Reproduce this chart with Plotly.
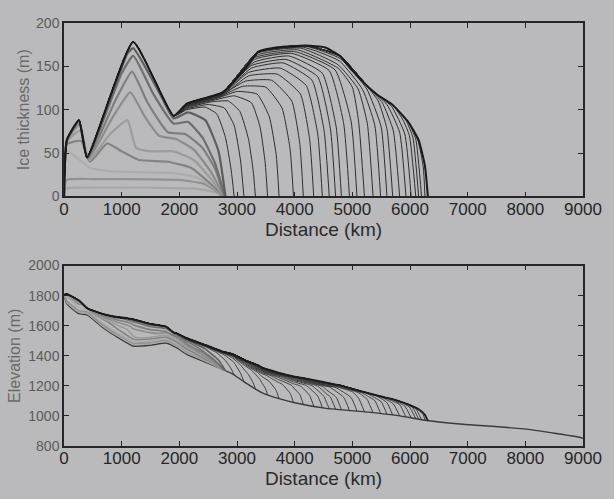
import numpy as np
import plotly.graph_objects as go

# ---------------------------------------------------------------
# Flow-line ice-sheet growth experiment: thickness and surface
# elevation profiles at successive time slices.
# ---------------------------------------------------------------

# Bedrock elevation along the flow line (km, m)
bed_x = [0, 50, 260, 400, 700, 900, 1200, 1490, 1770, 1950, 2130, 2470, 2920,
         3130, 3430, 3700, 4000, 4550, 5280, 5820, 6290, 6920, 8020, 8970, 9000]
bed_z = [1805, 1745, 1680, 1672, 1580, 1530, 1465, 1470, 1485, 1455, 1410, 1355, 1280,
         1225, 1155, 1118, 1088, 1050, 1025, 1000, 970, 945, 912, 855, 850]

# Build-up stage: thin, spreading ice confined to the first ~2800 km
early_profiles = [
    ([0, 30, 600, 1500, 2300, 2650, 2740],
     [0, 9, 10, 10, 9, 4, 0]),
    ([0, 40, 500, 1200, 2000, 2400, 2600, 2750],
     [0, 19, 20, 20, 19, 15, 8, 0]),
    ([0, 40, 450, 800, 1300, 1900, 2300, 2600, 2760],
     [0, 53, 33, 29, 28, 27, 22, 10, 0]),
    ([0, 50, 300, 450, 750, 1000, 1300, 1800, 2200, 2550, 2765],
     [0, 60, 64, 40, 61, 52, 42, 40, 33, 14, 0]),
    ([0, 50, 280, 430, 800, 1100, 1250, 1500, 1900, 2250, 2550, 2770],
     [0, 63, 76, 42, 72, 88, 56, 52, 52, 42, 20, 0]),
    ([0, 50, 270, 420, 850, 1150, 1400, 1650, 1950, 2250, 2550, 2775],
     [0, 64, 83, 43, 92, 120, 92, 70, 66, 54, 28, 0]),
    ([0, 50, 260, 410, 900, 1180, 1450, 1800, 2100, 2400, 2620, 2780],
     [0, 65, 86, 44, 112, 144, 108, 74, 72, 56, 32, 0]),
    ([0, 50, 260, 400, 1000, 1200, 1550, 1900, 2150, 2400, 2620, 2790],
     [0, 65, 87, 45, 142, 162, 118, 84, 86, 68, 38, 0]),
    ([0, 50, 260, 400, 1100, 1200, 1650, 1900, 2150, 2450, 2680, 2800],
     [0, 65, 88, 45, 165, 171, 120, 90, 97, 88, 52, 0]),
]
early_colors = ["#a6a6a6", "#929292", "#acacac", "#848484", "#9c9c9c",
                "#8c8c8c", "#7e7e7e", "#6e6e6e", "#5e5e5e"]

# Advance stage: interior part shared by every slice (0-1900 km)
core_x = [0, 50, 260, 400, 1200, 1900]
core_h = [0, 65, 88, 45, 178, 93]

# Advance stage: downstream part of each slice, ending at its terminus
advance_tails = [
    ([2130, 2450, 2650, 2800, 2900, 2950], [100, 103, 95, 68, 30, 0]),
    ([2130, 2500, 2780, 2950, 3060, 3120], [101, 106, 102, 82, 42, 0]),
    ([2130, 2550, 2850, 3050, 3200, 3280, 3320], [102, 109, 110, 98, 66, 30, 0]),
    ([2130, 2600, 2950, 3250, 3400, 3490, 3530], [103, 111, 116, 108, 80, 38, 0]),
    ([2130, 2650, 3000, 3350, 3560, 3680, 3730], [104, 113, 121, 118, 92, 48, 0]),
    ([2130, 2700, 3100, 3500, 3780, 3920, 3980], [104, 115, 127, 126, 102, 55, 0]),
    ([2130, 2700, 3150, 3600, 3950, 4090, 4150], [105, 116, 133, 134, 110, 60, 0]),
    ([2130, 2750, 3200, 3700, 4100, 4260, 4330], [105, 117, 139, 141, 118, 66, 0]),
    ([2130, 2750, 3200, 3750, 4200, 4400, 4480], [106, 118, 143, 148, 128, 72, 0]),
    ([2130, 2750, 3250, 3800, 4300, 4510, 4600], [106, 119, 148, 154, 134, 76, 0]),
    ([2130, 2750, 3250, 3850, 4400, 4620, 4710], [106, 119, 151, 158, 138, 78, 0]),
    ([2130, 2750, 3300, 3900, 4480, 4720, 4810], [107, 120, 155, 162, 142, 80, 0]),
    ([2130, 2750, 3300, 3950, 4600, 4850, 4950], [107, 120, 158, 165, 145, 84, 0]),
    ([2130, 2750, 3300, 4000, 4700, 4980, 5080], [107, 120, 160, 167, 146, 86, 0]),
    ([2130, 2750, 3350, 4050, 4750, 5000, 5110, 5210], [107, 120, 163, 169, 148, 126, 86, 0]),
    ([2130, 2750, 3350, 4100, 4750, 5100, 5260, 5360], [107, 120, 165, 171, 152, 124, 84, 0]),
    ([2130, 2750, 3370, 4150, 4780, 5180, 5390, 5490], [107, 120, 166, 172, 156, 123, 82, 0]),
    ([2130, 2750, 3370, 4200, 4790, 5250, 5500, 5600], [107, 120, 167, 173, 159, 124, 80, 0]),
    ([2130, 2750, 3370, 4200, 4790, 5280, 5450, 5600, 5700],
     [107, 120, 167, 174, 161, 125, 110, 78, 0]),
    ([2130, 2750, 3370, 4200, 4790, 5280, 5520, 5710, 5820],
     [107, 120, 167, 174, 162, 126, 108, 76, 0]),
    ([2130, 2750, 3370, 4200, 4790, 5280, 5600, 5820, 5930],
     [107, 120, 167, 174, 162, 126, 106, 74, 0]),
    ([2130, 2750, 3370, 4200, 4790, 5280, 5440, 5680, 5910, 6020],
     [107, 120, 167, 174, 162, 126, 117, 104, 72, 0]),
    ([2130, 2750, 3370, 4200, 4790, 5280, 5440, 5710, 5880, 5990, 6100],
     [107, 120, 167, 174, 162, 126, 117, 105, 88, 70, 0]),
    ([2130, 2750, 3370, 4200, 4790, 5280, 5440, 5710, 5930, 6050, 6150],
     [107, 120, 167, 174, 162, 126, 117, 105, 88, 68, 0]),
    ([2130, 2750, 3370, 4200, 4790, 5280, 5440, 5710, 5960, 6100, 6200],
     [107, 120, 167, 174, 162, 126, 117, 105, 87, 66, 0]),
    ([2130, 2750, 3370, 4200, 4790, 5280, 5440, 5710, 5980, 6140, 6230, 6260],
     [107, 120, 167, 174, 162, 126, 117, 105, 85, 64, 34, 0]),
    # final slice
    ([2130, 2750, 3200, 3370, 3700, 4200, 4520, 4790, 5000, 5280, 5440, 5710,
      5980, 6150, 6260, 6310],
     [107, 120, 152, 167, 172, 174, 172, 162, 145, 126, 117, 105,
      85, 65, 35, 0]),
]

x_ticks = [0, 1000, 2000, 3000, 4000, 5000, 6000, 7000, 8000, 9000]
thk_ticks = [0, 50, 100, 150, 200]
elev_ticks = [800, 1000, 1200, 1400, 1600, 1800, 2000]

PAPER = "#bababc"
AXIS = "#262626"
FONT = "Liberation Sans, Arial, Helvetica, sans-serif"
SMOOTH = 0.45


def surface(xs, hs):
    """Surface elevation of one slice: bed plus ice thickness, evaluated on
    the union of both polylines' vertices up to the terminus."""
    front = xs[-1]
    grid = sorted(set(xs) | {b for b in bed_x if b < front})
    grid = np.array(grid, dtype=float)
    return grid, np.interp(grid, bed_x, bed_z) + np.interp(grid, xs, hs)


fig = go.Figure()

# ---- top panel: ice thickness --------------------------------------------
for (xs, hs), col in zip(early_profiles, early_colors):
    fig.add_trace(go.Scatter(x=xs, y=hs, mode="lines", xaxis="x", yaxis="y",
                             line=dict(color=col, width=2.2, shape="spline",
                                       smoothing=SMOOTH),
                             hoverinfo="skip"))

n_adv = len(advance_tails)
for i, (tx, th) in enumerate(advance_tails):
    xs = core_x + tx
    hs = core_h + th
    last = i == n_adv - 1
    fig.add_trace(go.Scatter(x=xs, y=hs, mode="lines", xaxis="x", yaxis="y",
                             line=dict(color="#1a1a1a" if last else "#2e2e2e",
                                       width=2.0 if last else 1.0,
                                       shape="spline", smoothing=SMOOTH),
                             hoverinfo="skip"))

# ---- bottom panel: surface elevation -------------------------------------
fig.add_trace(go.Scatter(x=bed_x, y=bed_z, mode="lines", xaxis="x2", yaxis="y2",
                         line=dict(color="#3a3a3a", width=1.4, shape="spline",
                                   smoothing=SMOOTH),
                         hoverinfo="skip"))
for (xs, hs), col in zip(early_profiles, early_colors):
    gx, gz = surface(xs, hs)
    fig.add_trace(go.Scatter(x=gx, y=gz, mode="lines", xaxis="x2", yaxis="y2",
                             line=dict(color=col, width=1.6, shape="spline",
                                       smoothing=SMOOTH),
                             hoverinfo="skip"))
for i, (tx, th) in enumerate(advance_tails):
    gx, gz = surface(core_x + tx, core_h + th)
    last = i == n_adv - 1
    fig.add_trace(go.Scatter(x=gx, y=gz, mode="lines", xaxis="x2", yaxis="y2",
                             line=dict(color="#1a1a1a" if last else "#333333",
                                       width=1.8 if last else 0.9,
                                       shape="spline", smoothing=SMOOTH),
                             hoverinfo="skip"))

axis_common = dict(showline=True, linecolor=AXIS, linewidth=1.5, mirror="ticks",
                   ticks="inside", ticklen=5, tickwidth=1.2, tickcolor=AXIS,
                   showgrid=False, zeroline=False)

fig.update_layout(
    width=614, height=499,
    margin=dict(l=64, r=22, t=23, b=53),
    paper_bgcolor=PAPER, plot_bgcolor=PAPER,
    showlegend=False,
    font=dict(family=FONT, color="#2a2a2a"),
    xaxis=dict(domain=[0, 1], anchor="y", range=[0, 9000], tickvals=x_ticks,
               tickfont=dict(size=17, color="#262626"), ticklabelstandoff=-4,
               title=dict(text="Distance (km)", font=dict(size=19, color="#2a2a2a"),
                          standoff=2),
               **axis_common),
    yaxis=dict(domain=[0.590, 1.0], anchor="x", range=[0, 200], tickvals=thk_ticks,
               tickfont=dict(size=14, color="#5a5a5a"),
               title=dict(text="Ice thickness (m)", font=dict(size=16, color="#6a6a6a"),
                          standoff=2),
               **axis_common),
    xaxis2=dict(domain=[0, 1], anchor="y2", range=[0, 9000], tickvals=x_ticks,
                tickfont=dict(size=17, color="#262626"), ticklabelstandoff=-4,
                title=dict(text="Distance (km)", font=dict(size=19, color="#2a2a2a"),
                           standoff=2),
                **axis_common),
    yaxis2=dict(domain=[0, 0.4265], anchor="x2", range=[800, 2000], tickvals=elev_ticks,
                tickfont=dict(size=14, color="#5a5a5a"),
                title=dict(text="Elevation (m)", font=dict(size=16, color="#6a6a6a"),
                           standoff=4),
                **axis_common),
)

fig.write_html("out.html")
